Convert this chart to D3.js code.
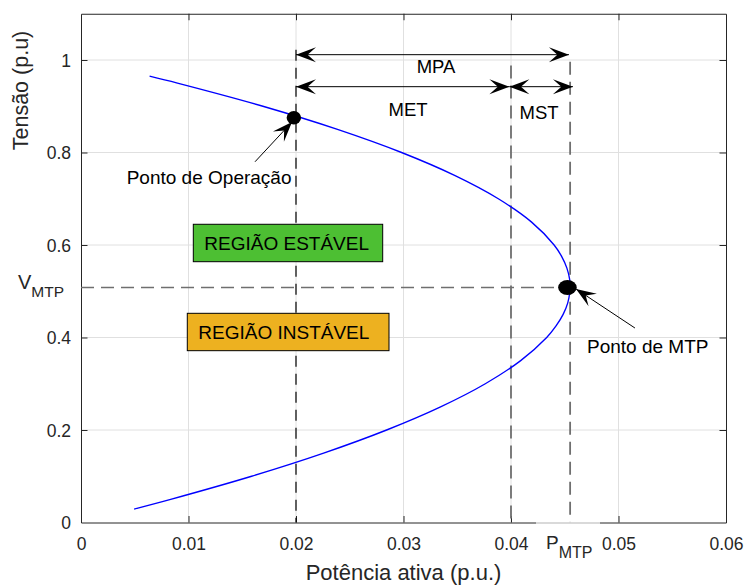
<!DOCTYPE html>
<html>
<head>
<meta charset="utf-8">
<script src="https://cdn.jsdelivr.net/npm/d3@7"></script>
<style>
  html, body { margin: 0; padding: 0; background: #fff; }
  svg { display: block; font-family: "Liberation Sans", Arial, sans-serif; }
</style>
</head>
<body>
<svg id="chart" width="744" height="585"></svg>
<script>
// P-V curve (nose curve) of the load bus, ordered along the curve
const voltage = [0.965, 0.95, 0.9, 0.85, 0.8, 0.75, 0.7, 0.65, 0.6, 0.575, 0.55, 0.525, 0.51, 0.5,
                 0.475, 0.45, 0.425, 0.4, 0.35, 0.3, 0.25, 0.2, 0.15, 0.1, 0.05, 0.029];
const power   = [0.00638, 0.00897, 0.01692, 0.02386, 0.02982, 0.03480, 0.03882, 0.04189, 0.04401,
                 0.04472, 0.04520, 0.04546, 0.04550, 0.04548, 0.04528, 0.04485, 0.04419, 0.04332,
                 0.04090, 0.03761, 0.03345, 0.02843, 0.02257, 0.01587, 0.00834, 0.00494];

// Axis ticks
const xTicks = [0, 0.01, 0.02, 0.03, 0.04, 0.05, 0.06];
const xTickLabels = ["0", "0.01", "0.02", "0.03", "0.04", "0.05", "0.06"];
const yTicks = [0, 0.2, 0.4, 0.6, 0.8, 1];
const yTickLabels = ["0", "0.2", "0.4", "0.6", "0.8", "1"];

// Key points
const pOperation = 0.0198, vOperation = 0.875;
const pMTP = 0.0455, vMTP = 0.508;
const pMET = 0.04;
const pOpLine = 0.02;

const svg = d3.select("#chart");
const plotL = 81, plotR = 726, plotT = 13.75, plotB = 522.5;
const x = d3.scaleLinear().domain([0, 0.06]).range([plotL, plotR]);
const y = d3.scaleLinear().domain([0, 1.1]).range([plotB, plotT]);
const ink = "#262626";

// grid
const grid = svg.append("g");
grid.selectAll("line.gx").data(xTicks.slice(1, -1)).enter().append("line")
  .attr("x1", d => x(d)).attr("x2", d => x(d)).attr("y1", plotT).attr("y2", plotB)
  .attr("stroke", "#e0e0e0").attr("stroke-width", 1);
grid.selectAll("line.gy").data(yTicks.slice(1)).enter().append("line")
  .attr("x1", plotL).attr("x2", plotR).attr("y1", d => y(d)).attr("y2", d => y(d))
  .attr("stroke", "#e0e0e0").attr("stroke-width", 1);

// axes (box with inward ticks on all sides)
const tickLen = 6.5;
const axB = svg.append("g").attr("transform", `translate(0,${plotB})`)
  .call(d3.axisBottom(x).tickValues(xTicks).tickSizeInner(-tickLen).tickSizeOuter(0).tickFormat((d, i) => xTickLabels[i]));
const axT = svg.append("g").attr("transform", `translate(0,${plotT})`)
  .call(d3.axisTop(x).tickValues(xTicks).tickSizeInner(-tickLen).tickSizeOuter(0).tickFormat(""));
const axL = svg.append("g").attr("transform", `translate(${plotL},0)`)
  .call(d3.axisLeft(y).tickValues(yTicks).tickSizeInner(-tickLen).tickSizeOuter(0).tickFormat((d, i) => yTickLabels[i]));
const axR = svg.append("g").attr("transform", `translate(${plotR},0)`)
  .call(d3.axisRight(y).tickValues(yTicks).tickSizeInner(-tickLen).tickSizeOuter(0).tickFormat(""));
[axB, axT, axL, axR].forEach(a => {
  a.select(".domain").attr("stroke", ink).attr("stroke-width", 1);
  a.selectAll(".tick line").attr("stroke", ink);
  a.selectAll("text").attr("fill", ink).attr("font-size", 17.5).attr("font-family", "Liberation Sans, Arial, sans-serif");
});
axB.selectAll(".tick text").attr("y", 15).attr("dy", "0.71em");
axL.selectAll(".tick text").attr("x", -10).attr("dy", "0.35em");
// hide the tick marks that sit on the box corners
axB.selectAll(".tick").filter(d => d === 0 || d === 0.06).select("line").remove();
axT.selectAll(".tick").filter(d => d === 0 || d === 0.06).select("line").remove();
axL.selectAll(".tick").filter(d => d === 0).select("line").remove();
axR.selectAll(".tick").filter(d => d === 0).select("line").remove();

// axis titles
svg.append("text").attr("x", 403.5).attr("y", 580).attr("text-anchor", "middle")
  .attr("font-size", 22).attr("fill", ink).text("Potência ativa (p.u.)");
svg.append("text").attr("transform", "translate(28,90.5) rotate(-90)").attr("text-anchor", "middle")
  .attr("font-size", 21.5).attr("fill", ink).text("Tensão (p.u)");

// reference dashed lines
svg.append("line").attr("x1", x(pOpLine)).attr("x2", x(pOpLine)).attr("y1", y(1.022)).attr("y2", plotB)
  .attr("stroke", "#000").attr("stroke-width", 1.2).attr("stroke-dasharray", "11,7");
svg.append("line").attr("x1", x(pMET)).attr("x2", x(pMET)).attr("y1", y(0.988)).attr("y2", plotB + 3)
  .attr("stroke", "#6f6f6f").attr("stroke-width", 1.8).attr("stroke-dasharray", "13,7");
svg.append("line").attr("x1", x(pMTP)).attr("x2", x(pMTP)).attr("y1", y(0.996)).attr("y2", plotB)
  .attr("stroke", "#6f6f6f").attr("stroke-width", 1.8).attr("stroke-dasharray", "13,7");
svg.append("line").attr("x1", plotL).attr("x2", x(pMTP)).attr("y1", y(vMTP)).attr("y2", y(vMTP))
  .attr("stroke", "#6f6f6f").attr("stroke-width", 1.6).attr("stroke-dasharray", "13,7");

// P-V curve
const pts = power.map((p, i) => [p, voltage[i]]);
svg.append("path").datum(pts)
  .attr("d", d3.line().x(d => x(d[0])).y(d => y(d[1])).curve(d3.curveCatmullRom.alpha(0.5)))
  .attr("fill", "none").attr("stroke", "#0000ff").attr("stroke-width", 1.35);

// region boxes
function regionBox(p0, p1, v0, v1, fill, label) {
  svg.append("rect").attr("x", x(p0)).attr("y", y(v1)).attr("width", x(p1) - x(p0)).attr("height", y(v0) - y(v1))
    .attr("fill", fill).attr("stroke", "#000").attr("stroke-width", 1);
  svg.append("text").attr("x", x(p0) + 11).attr("y", (y(v0) + y(v1)) / 2).attr("dy", "0.36em")
    .attr("font-size", 19).attr("fill", "#000").text(label);
}
regionBox(0.010447, 0.028065, 0.5639, 0.6448, "#4dbf33", "REGIÃO ESTÁVEL");
regionBox(0.009888, 0.028651, 0.3715, 0.4523, "#edb120", "REGIÃO INSTÁVEL");

// arrow with concave head
function head(tx, ty, fx, fy) {
  const L = 20, W = 7.5, notch = 0.58;
  const dx = fx - tx, dy = fy - ty, len = Math.hypot(dx, dy);
  const ux = dx / len, uy = dy / len, nx = -uy, ny = ux;
  const p = [[tx, ty], [tx + ux * L + nx * W, ty + uy * L + ny * W],
             [tx + ux * L * notch, ty + uy * L * notch], [tx + ux * L - nx * W, ty + uy * L - ny * W]];
  svg.append("path").attr("d", "M" + p.map(q => q.join(",")).join("L") + "Z").attr("fill", "#000");
}
function arrow(p0, v0, p1, v1, both) {
  const x0 = x(p0), y0 = y(v0), x1 = x(p1), y1 = y(v1);
  svg.append("line").attr("x1", x0).attr("y1", y0).attr("x2", x1).attr("y2", y1)
    .attr("stroke", "#000").attr("stroke-width", 1);
  head(x1, y1, x0, y0);
  if (both) head(x0, y0, x1, y1);
}
const vMPA = 1.0115, vMETrow = 0.9423;
arrow(0.02, vMPA, 0.04539, vMPA, true);
arrow(0.02, vMETrow, 0.03985, vMETrow, true);
arrow(0.03985, vMETrow, 0.04576, vMETrow, true);

svg.append("text").attr("x", 436).attr("y", 72.7).attr("text-anchor", "middle").attr("font-size", 18.5).text("MPA");
svg.append("text").attr("x", 408).attr("y", 115.7).attr("text-anchor", "middle").attr("font-size", 18.5).text("MET");
svg.append("text").attr("x", 539).attr("y", 119).attr("text-anchor", "middle").attr("font-size", 18.5).text("MST");

// points of interest
svg.append("ellipse").attr("cx", x(pOperation)).attr("cy", y(vOperation)).attr("rx", 7.2).attr("ry", 6.7).attr("fill", "#000");
svg.append("ellipse").attr("cx", x(0.04525)).attr("cy", y(vMTP)).attr("rx", 9.3).attr("ry", 7.5).attr("fill", "#000");

arrow(0.01619, 0.780, 0.01963, 0.866, false);
arrow(0.05153, 0.4205, 0.04605, 0.5049, false);

svg.append("text").attr("x", x(0.00425)).attr("y", 184).attr("font-size", 19).attr("fill", "#000").text("Ponto de Operação");
svg.append("text").attr("x", x(0.04707)).attr("y", 353).attr("font-size", 19).attr("fill", "#000").text("Ponto de MTP");

// V_MTP and P_MTP labels
const vLab = svg.append("text").attr("x", 18).attr("y", 289).attr("font-size", 20).attr("fill", ink);
vLab.append("tspan").text("V");
vLab.append("tspan").attr("font-size", 15.5).attr("dy", 8).text("MTP");

svg.append("rect").attr("x", 536).attr("y", 521).attr("width", 64).attr("height", 42).attr("fill", "#fff").attr("opacity", 0.65);
const pLab = svg.append("text").attr("x", 546).attr("y", 548.5).attr("font-size", 19).attr("fill", ink);
pLab.append("tspan").text("P");
pLab.append("tspan").attr("font-size", 16).attr("dy", 9.5).text("MTP");
</script>
</body>
</html>
